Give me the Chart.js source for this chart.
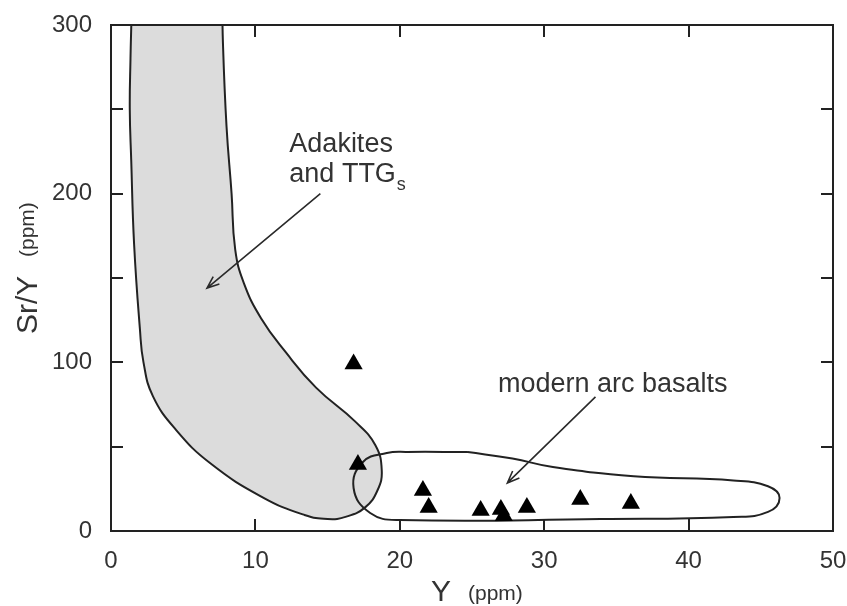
<!DOCTYPE html>
<html lang="en">
<head>
    <meta charset="UTF-8">
    <title>Sr/Y vs Y</title>
    <script src="https://cdn.jsdelivr.net/npm/chart.js"></script>
    <style>
        html, body { margin: 0; padding: 0; background: #fff; }
        #wrap { width: 847px; height: 606px; }
    </style>
</head>
<body>
    <div id="wrap"><canvas id="srChart"></canvas></div>

    <script>
        // axis ranges and labelled ticks
        const xLabels = [0, 10, 20, 30, 40, 50];
        const yLabels = [0, 100, 200, 300];

        // samples (triangles): Y (ppm) and Sr/Y
        const sampleY   = [16.8, 17.1, 21.6, 22.0, 25.6, 27.0, 27.2, 28.8, 32.5, 36.0];
        const sampleSrY = [99, 39.5, 24, 14, 12.2, 12.7, 9.0, 14, 18.7, 16.3];

        // Adakites and TTGs field (outline, closed; the top runs off the chart)
        const adakiteX = [1.5, 1.45, 1.35, 1.3, 1.4, 1.6, 2.0, 2.25, 2.9, 4.5, 6.9, 10.5, 13.4, 15.0, 16.3, 17.6, 18.45, 18.75, 18.3, 16.9, 14.2, 12.1, 10.4, 9.2, 8.6, 8.35, 8.0, 7.75, 7.7, 7.6, 1.5];
        const adakiteSr = [400, 320, 280, 250, 220, 170, 120, 100, 80, 60, 40, 20, 9.5, 7.1, 8.5, 14, 24, 36, 51, 65, 85, 106, 126, 147, 167, 200, 240, 290, 320, 400, 400];

        // modern arc basalts field (outline, closed)
        const basaltX = [24.7, 27.8, 30.6, 36.2, 43.1, 45.5, 46.3, 45.5, 43.1, 33.9, 20.0, 17.95, 16.8, 17.45, 19.1, 20.5, 24.7];
        const basaltSr = [46.8, 43.0, 37.9, 32.5, 30.0, 26.5, 19.6, 11.3, 8.3, 7.1, 6.5, 10.7, 25.5, 40.9, 46.2, 46.9, 46.8];

        const toPts = (xs, ys) => xs.map((v, i) => ({ x: v, y: ys[i] }));

        const ink = '#222';
        const textCol = '#333';
        const font = '"Liberation Sans", Arial, sans-serif';

        function arrow(ctx, x0, y0, x1, y1) {
            const ang = Math.atan2(y1 - y0, x1 - x0);
            const len = 13, spread = 0.38;
            ctx.beginPath();
            ctx.moveTo(x0, y0);
            ctx.lineTo(x1, y1);
            ctx.moveTo(x1 - len * Math.cos(ang - spread), y1 - len * Math.sin(ang - spread));
            ctx.lineTo(x1, y1);
            ctx.lineTo(x1 - len * Math.cos(ang + spread), y1 - len * Math.sin(ang + spread));
            ctx.stroke();
        }

        // no extra room for first/last tick labels, the layout padding handles it
        const noLabelPad = s => {
            s.paddingLeft = 0; s.paddingRight = 0;
            s.paddingTop = 0; s.paddingBottom = 0;
        };

        // frame, inward ticks, arrows, labels and axis titles
        const overlay = {
            id: 'overlay',
            afterDatasetsDraw(chart) {
                const { ctx, chartArea: a, scales: { x, y } } = chart;
                ctx.save();
                ctx.strokeStyle = ink;
                ctx.lineWidth = 2;
                ctx.strokeRect(a.left, a.top, a.right - a.left, a.bottom - a.top);

                ctx.beginPath();
                x.ticks.forEach(t => {
                    if (t.value <= x.min || t.value >= x.max) return;
                    const px = Math.round(x.getPixelForValue(t.value));
                    ctx.moveTo(px, a.bottom); ctx.lineTo(px, a.bottom - 12);
                    ctx.moveTo(px, a.top); ctx.lineTo(px, a.top + 12);
                });
                y.ticks.forEach(t => {
                    if (t.value <= y.min || t.value >= y.max) return;
                    const py = Math.round(y.getPixelForValue(t.value));
                    ctx.moveTo(a.left, py); ctx.lineTo(a.left + 12, py);
                    ctx.moveTo(a.right, py); ctx.lineTo(a.right - 12, py);
                });
                ctx.stroke();

                // arrows
                ctx.lineWidth = 1.6;
                ctx.strokeStyle = '#2a2a2a';
                arrow(ctx, x.getPixelForValue(14.5), y.getPixelForValue(200), x.getPixelForValue(6.65), y.getPixelForValue(144));
                arrow(ctx, x.getPixelForValue(33.55), y.getPixelForValue(79.5), x.getPixelForValue(27.45), y.getPixelForValue(28.5));

                // annotations
                ctx.fillStyle = textCol;
                ctx.textBaseline = 'alphabetic';
                ctx.textAlign = 'left';
                ctx.font = '27px ' + font;
                const ax = x.getPixelForValue(12.35);
                ctx.fillText('Adakites', ax, y.getPixelForValue(224.7));
                const line2 = 'and TTG';
                const l2y = y.getPixelForValue(207);
                ctx.fillText(line2, ax, l2y);
                const w2 = ctx.measureText(line2).width;
                ctx.font = '18px ' + font;
                ctx.fillText('s', ax + w2 + 1, l2y + 8);

                ctx.font = '27px ' + font;
                ctx.fillText('modern arc basalts', x.getPixelForValue(26.8), y.getPixelForValue(82.5));

                // x axis title
                ctx.font = '30px ' + font;
                ctx.fillText('Y', 431, 601);
                ctx.font = '21px ' + font;
                ctx.fillText('(ppm)', 468, 600);

                // y axis title (rotated)
                ctx.save();
                ctx.translate(37, 334);
                ctx.rotate(-Math.PI / 2);
                ctx.font = '30px ' + font;
                ctx.fillText('Sr/Y', 0, 0);
                ctx.font = '21px ' + font;
                ctx.fillText('(ppm)', 77, -3);
                ctx.restore();

                ctx.restore();
            }
        };

        new Chart(document.getElementById('srChart'), {
            data: {
                datasets: [
                    {
                        type: 'scatter',
                        label: 'Samples',
                        data: toPts(sampleY, sampleSrY),
                        pointStyle: 'triangle',
                        pointRadius: 10.5,
                        pointHoverRadius: 10.5,
                        backgroundColor: '#000',
                        borderColor: '#000',
                        borderWidth: 0,
                        order: 0
                    },
                    {
                        type: 'line',
                        label: 'modern arc basalts',
                        data: toPts(basaltX, basaltSr),
                        borderColor: ink,
                        borderWidth: 2,
                        tension: 0.45,
                        pointRadius: 0,
                        fill: false,
                        order: 1
                    },
                    {
                        type: 'line',
                        label: 'Adakites and TTGs',
                        data: toPts(adakiteX, adakiteSr),
                        borderColor: ink,
                        borderWidth: 2,
                        backgroundColor: '#dcdcdc',
                        tension: 0.45,
                        pointRadius: 0,
                        fill: 'shape',
                        order: 2
                    }
                ]
            },
            options: {
                responsive: true,
                maintainAspectRatio: false,
                animation: false,
                elements: { line: { capBezierPoints: false } },
                layout: { padding: { top: 25, right: 14, left: 0, bottom: 0 } },
                plugins: {
                    legend: { display: false },
                    tooltip: { enabled: false }
                },
                scales: {
                    x: {
                        type: 'linear',
                        min: xLabels[0],
                        max: xLabels[xLabels.length - 1],
                        grid: { display: false, drawTicks: false },
                        border: { display: false },
                        ticks: {
                            stepSize: 10,
                            padding: 16,
                            color: textCol,
                            font: { size: 24, family: font },
                            callback: v => xLabels.includes(v) ? String(v) : ''
                        },
                        afterFit: s => { s.height = 75; noLabelPad(s); }
                    },
                    y: {
                        type: 'linear',
                        min: yLabels[0],
                        max: yLabels[yLabels.length - 1],
                        grid: { display: false, drawTicks: false },
                        border: { display: false },
                        ticks: {
                            stepSize: 50,
                            padding: 19,
                            color: textCol,
                            font: { size: 24, family: font },
                            callback: v => yLabels.includes(v) ? String(v) : ''
                        },
                        afterFit: s => { s.width = 111; noLabelPad(s); }
                    }
                }
            },
            plugins: [overlay]
        });
    </script>
</body>
</html>
